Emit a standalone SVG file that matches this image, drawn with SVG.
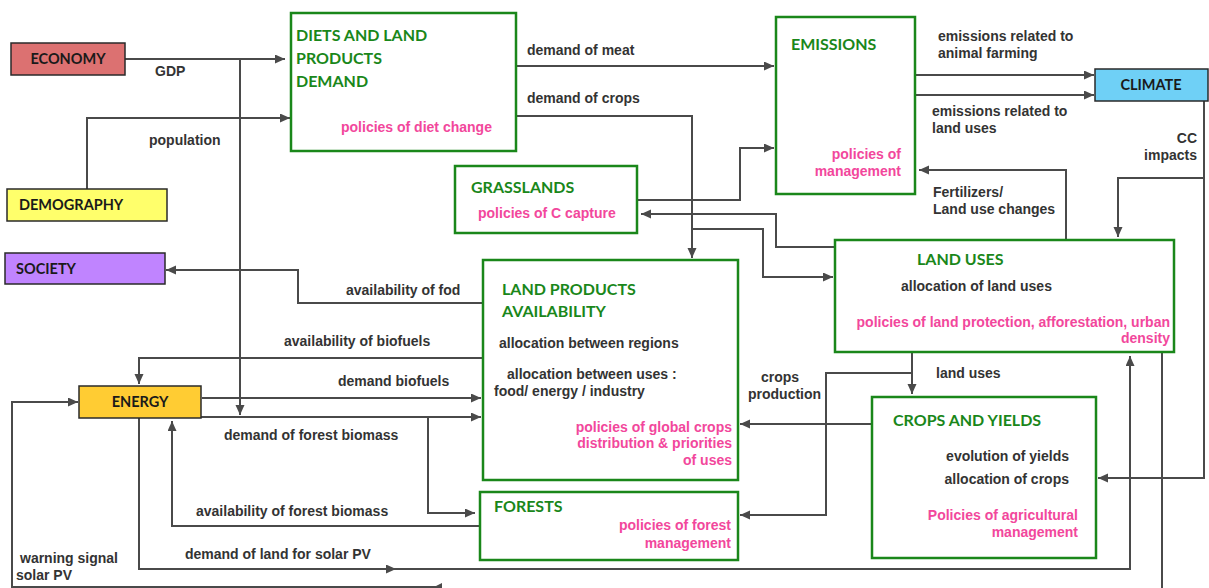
<svg xmlns="http://www.w3.org/2000/svg" width="1209" height="588" viewBox="0 0 1209 588">
<defs>
<style>
.bg{fill:#ffffff}
.sbox{stroke:#2a2a2a;stroke-width:1.5}
.gbox{fill:#ffffff;stroke:#1a871a;stroke-width:2.5}
.stitle{font-family:Lato,"Open Sans","Liberation Sans",sans-serif;font-weight:bold;font-size:14.5px;fill:#1a1a1a}
.gtitle{font-family:Lato,"Open Sans","Liberation Sans",sans-serif;font-weight:bold;font-size:16px;fill:#1a871a}
.lbl{font-family:"Liberation Sans",Arial,sans-serif;font-weight:bold;font-size:14px;fill:#333333}
.pol{font-family:"Liberation Sans",Arial,sans-serif;font-weight:bold;font-size:14px;fill:#f2479c}
.end{text-anchor:end}
.mid{text-anchor:middle}
.c{fill:none;stroke:#4a4a4a;stroke-width:2}
.ca{fill:none;stroke:#4a4a4a;stroke-width:2;marker-end:url(#ah)}
</style>
<marker id="ah" markerUnits="userSpaceOnUse" markerWidth="11" markerHeight="10" refX="10" refY="4.5" orient="auto">
<path d="M0,0 L10,4.5 L0,9 z" fill="#4a4a4a"/>
</marker>
</defs>
<rect class="bg" x="0" y="0" width="1209" height="588"/>

<g id="connectors">
<!-- GDP -->
<path class="ca" d="M125,59 H285"/>
<path class="ca" d="M240,59 V415"/>
<!-- population -->
<path class="ca" d="M87,189 V118 H290"/>
<!-- demand of meat -->
<path class="ca" d="M516,66 H774"/>
<!-- demand of crops -->
<path class="ca" d="M516,116 H692 V258"/>
<path class="ca" d="M692,229 H763 V277 H833"/>
<!-- grasslands to emissions -->
<path class="ca" d="M637,200 H740 V148 H774"/>
<!-- land uses to grasslands -->
<path class="ca" d="M835,247 H776 V214 H641"/>
<!-- emissions to climate -->
<path class="ca" d="M915,75 H1094"/>
<path class="ca" d="M915,95 H1094"/>
<!-- fertilizers -->
<path class="ca" d="M1066,240 V170 H919"/>
<!-- CC impacts -->
<path class="ca" d="M1204,101 V478 H1098"/>
<path class="ca" d="M1204,178 H1118 V237"/>
<!-- land uses to crops -->
<path class="ca" d="M912,352 V394"/>
<path class="ca" d="M912,373 H826 V515 H740"/>
<!-- crops to land products -->
<path class="ca" d="M872,424 H740"/>
<!-- availability of fod -->
<path class="ca" d="M483,303 H298 V270 H166"/>
<!-- availability of biofuels -->
<path class="ca" d="M483,358 H139 V384"/>
<!-- demand biofuels -->
<path class="ca" d="M202,398 H481"/>
<!-- demand of forest biomass -->
<path class="ca" d="M200,417 H481"/>
<path class="ca" d="M428,417 V513 H475"/>
<!-- availability of forest biomass -->
<path class="ca" d="M480,526 H172 V421"/>
<!-- demand of land for solar PV -->
<path class="ca" d="M139,418 V569 H396"/>
<path class="ca" d="M394,569 H1130 V356"/>
<!-- warning signal solar PV -->
<path class="c" d="M1162,352 V600"/>
<path class="ca" d="M442,587 H12 V402 H78"/>
<path d="M432,588 L442,583 L442,593 z" fill="#4a4a4a"/>
</g>

<g id="economy">
<rect class="sbox" x="11" y="43" width="114" height="32" fill="#dc7171"/>
<text class="stitle mid" x="68" y="64">ECONOMY</text>
</g>
<g id="demography">
<rect class="sbox" x="7" y="189" width="160" height="32" fill="#ffff6b"/>
<text class="stitle" x="19" y="210">DEMOGRAPHY</text>
</g>
<g id="society">
<rect class="sbox" x="5" y="253" width="160" height="31" fill="#c084ff"/>
<text class="stitle" x="16" y="274">SOCIETY</text>
</g>
<g id="energy">
<rect class="sbox" x="79" y="386" width="122" height="32" fill="#ffcc33"/>
<text class="stitle mid" x="140" y="407">ENERGY</text>
</g>
<g id="climate">
<rect class="sbox" x="1095" y="69" width="113" height="32" fill="#6fd0f6"/>
<text class="stitle mid" x="1151" y="90">CLIMATE</text>
</g>

<g id="diets">
<rect class="gbox" x="291" y="13" width="225" height="138"/>
<text class="gtitle" x="296" y="41">DIETS AND LAND</text>
<text class="gtitle" x="296" y="64">PRODUCTS</text>
<text class="gtitle" x="296" y="87">DEMAND</text>
<text class="pol" x="341" y="132">policies of diet change</text>
</g>
<g id="emissions">
<rect class="gbox" x="776" y="17" width="139" height="177"/>
<text class="gtitle" x="791" y="50">EMISSIONS</text>
<text class="pol end" x="901" y="159">policies of</text>
<text class="pol end" x="901" y="176">management</text>
</g>
<g id="grasslands">
<rect class="gbox" x="455" y="166" width="182" height="67"/>
<text class="gtitle" x="471" y="193">GRASSLANDS</text>
<text class="pol" x="478" y="218">policies of C capture</text>
</g>
<g id="land-products">
<rect class="gbox" x="483" y="260" width="255" height="220"/>
<text class="gtitle" x="502" y="295">LAND PRODUCTS</text>
<text class="gtitle" x="502" y="317">AVAILABILITY</text>
<text class="lbl" x="499" y="348">allocation between regions</text>
<text class="lbl" x="507" y="379">allocation between uses :</text>
<text class="lbl" x="494" y="396">food/ energy / industry</text>
<text class="pol end" x="732" y="432">policies of global crops</text>
<text class="pol end" x="732" y="448">distribution &amp; priorities</text>
<text class="pol end" x="732" y="465">of uses</text>
</g>
<g id="land-uses">
<rect class="gbox" x="835" y="240" width="339" height="112"/>
<text class="gtitle" x="917" y="265">LAND USES</text>
<text class="lbl" x="901" y="291">allocation of land uses</text>
<text class="pol end" x="1170" y="327">policies of land protection, afforestation, urban</text>
<text class="pol end" x="1170" y="343">density</text>
</g>
<g id="crops">
<rect class="gbox" x="872" y="397" width="224" height="161"/>
<text class="gtitle" x="893" y="426">CROPS AND YIELDS</text>
<text class="lbl end" x="1069" y="461">evolution of yields</text>
<text class="lbl end" x="1069" y="484">allocation of crops</text>
<text class="pol end" x="1078" y="520">Policies of agricultural</text>
<text class="pol end" x="1078" y="537">management</text>
</g>
<g id="forests">
<rect class="gbox" x="480" y="492" width="258" height="68"/>
<text class="gtitle" x="494" y="512">FORESTS</text>
<text class="pol end" x="731" y="530">policies of forest</text>
<text class="pol end" x="731" y="548">management</text>
</g>

<g id="labels">
<text class="lbl" x="155" y="76">GDP</text>
<text class="lbl" x="149" y="145">population</text>
<text class="lbl" x="527" y="55">demand of meat</text>
<text class="lbl" x="527" y="103">demand of crops</text>
<text class="lbl" x="938" y="41">emissions related to</text>
<text class="lbl" x="938" y="58">animal farming</text>
<text class="lbl" x="932" y="116">emissions related to</text>
<text class="lbl" x="932" y="133">land uses</text>
<text class="lbl end" x="1197" y="143">CC</text>
<text class="lbl end" x="1197" y="160">impacts</text>
<text class="lbl" x="933" y="197">Fertilizers/</text>
<text class="lbl" x="933" y="214">Land use changes</text>
<text class="lbl" x="346" y="295">availability of fod</text>
<text class="lbl" x="284" y="346">availability of biofuels</text>
<text class="lbl" x="338" y="386">demand biofuels</text>
<text class="lbl" x="224" y="440">demand of forest biomass</text>
<text class="lbl" x="196" y="516">availability of forest biomass</text>
<text class="lbl" x="185" y="559">demand of land for solar PV</text>
<text class="lbl" x="20" y="563">warning signal</text>
<text class="lbl" x="16" y="580">solar PV</text>
<text class="lbl" x="936" y="378">land uses</text>
<text class="lbl" x="761" y="382">crops</text>
<text class="lbl" x="748" y="399">production</text>
</g>
</svg>
